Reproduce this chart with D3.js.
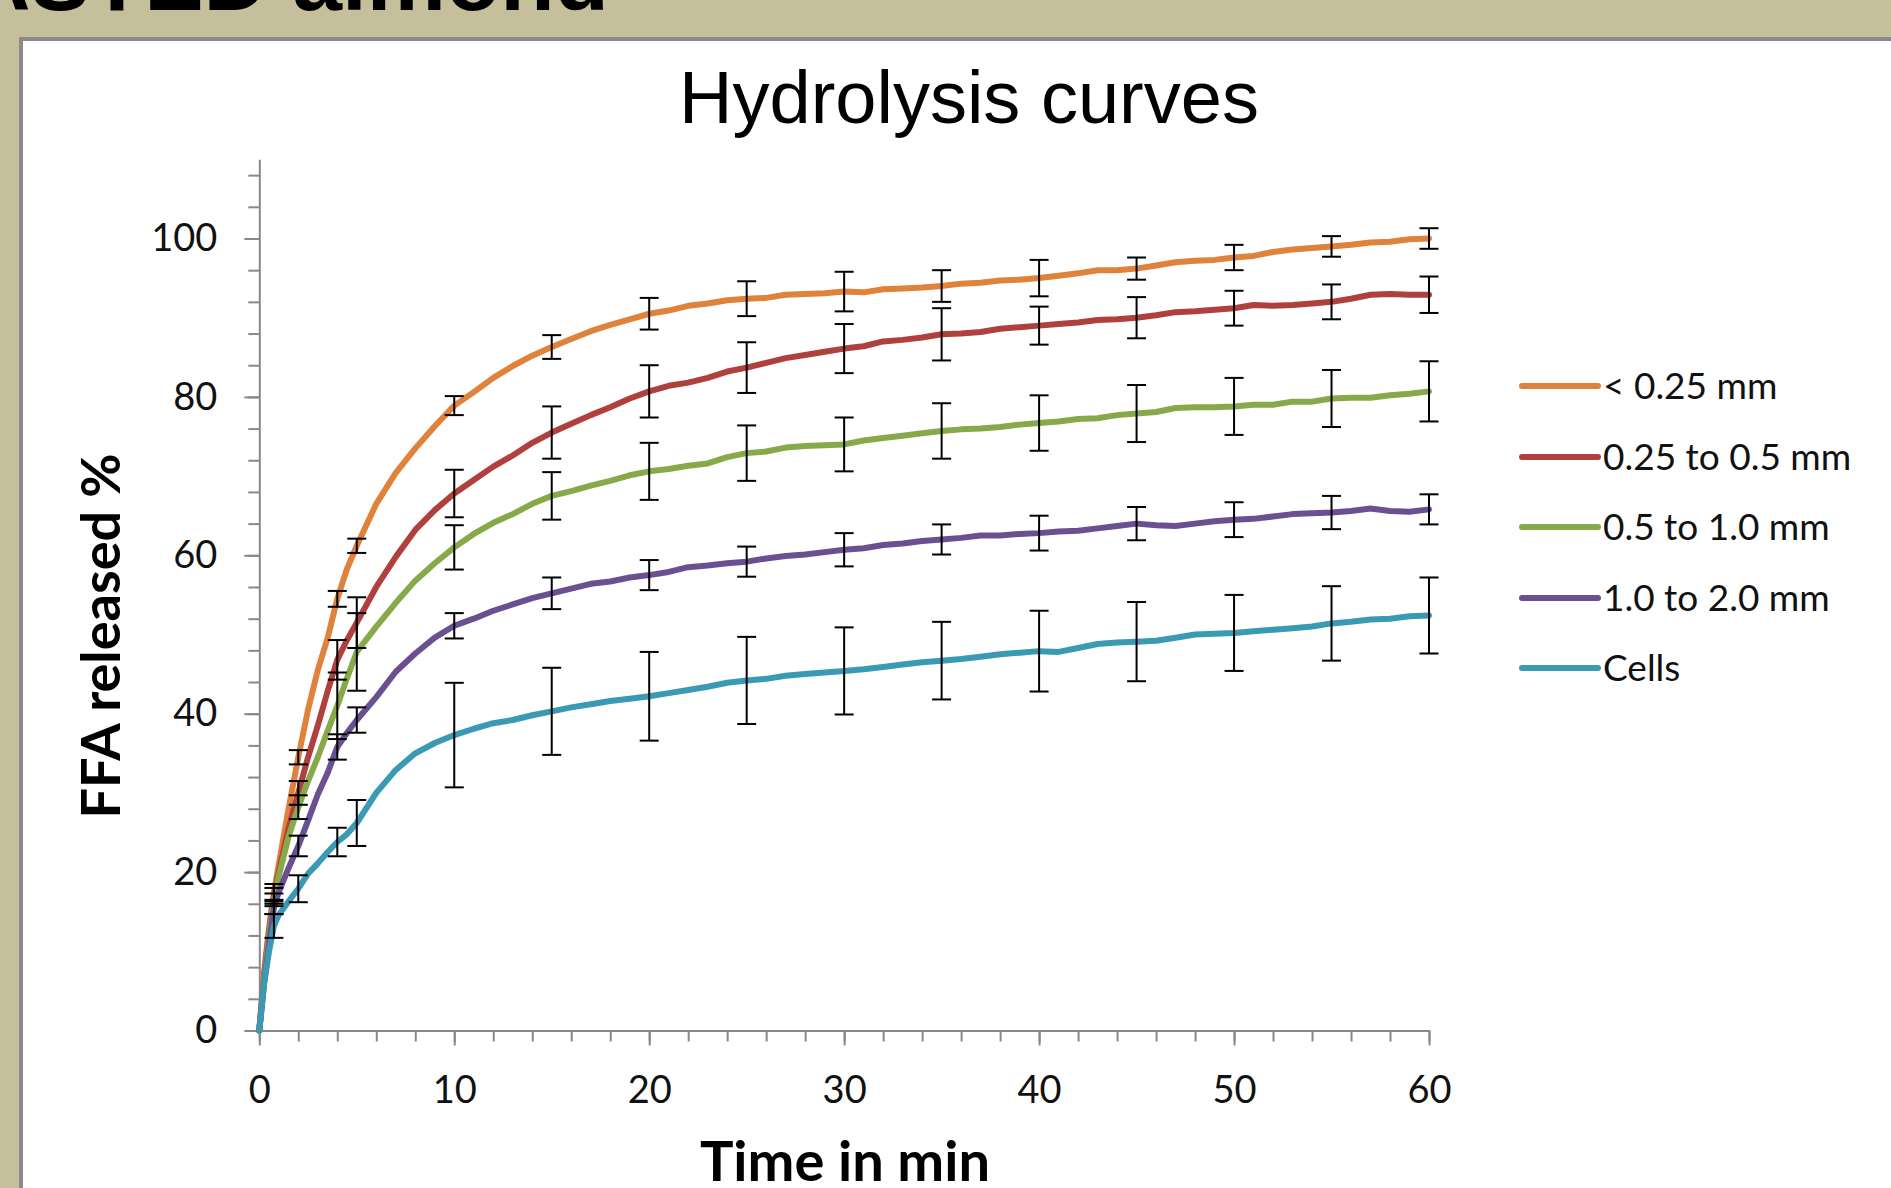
<!DOCTYPE html>
<html><head><meta charset="utf-8">
<script src="https://cdn.jsdelivr.net/npm/d3@7"></script>
<style>
body{margin:0;background:#C6BF9B;overflow:hidden;}
svg{display:block;}
</style></head>
<body>
<svg id="chart" width="1891" height="1188"></svg>
<script>
// ---- data ----
const times = [0,0.25,0.5,0.75,1,1.5,2,2.5,3,3.5,4,4.5,5,6,7,8,9,10,11,12,13,14,15,16,17,18,19,20,21,22,23,24,25,26,27,28,29,30,31,32,33,34,35,36,37,38,39,40,41,42,43,44,45,46,47,48,49,50,51,52,53,54,55,56,57,58,59,60];
const seriesNames = ["< 0.25 mm","0.25 to 0.5 mm","0.5 to 1.0 mm","1.0 to 2.0 mm","Cells"];
const below025 = [0,7.5,13,17.5,21,28,34.5,40.5,45.5,49.5,54.5,58.3,61.2,66.5,70.4,73.5,76.3,78.9,80.6,82.4,83.9,85.2,86.3,87.3,88.3,89.1,89.8,90.5,90.9,91.5,91.8,92.2,92.4,92.5,92.9,93.0,93.1,93.3,93.2,93.6,93.7,93.8,94.0,94.3,94.4,94.7,94.8,95.0,95.3,95.6,96.0,96.0,96.2,96.6,97.0,97.2,97.3,97.6,97.8,98.3,98.6,98.8,99.0,99.2,99.5,99.6,99.9,100.0];
const from025to05 = [0,7,12.5,17,20,25.5,30,34.5,38.5,42.8,46.8,49.3,51.5,56.0,59.8,63.2,65.7,67.8,69.5,71.2,72.6,74.2,75.5,76.6,77.7,78.7,79.8,80.7,81.4,81.8,82.4,83.2,83.7,84.3,84.9,85.3,85.7,86.1,86.4,87.0,87.2,87.5,87.9,88.0,88.2,88.6,88.8,89.0,89.2,89.4,89.7,89.8,90.0,90.3,90.7,90.8,91.0,91.2,91.6,91.5,91.6,91.8,92.0,92.4,92.9,93.0,92.9,92.9];
const from05to10 = [0,6.5,12,16.5,19.5,24.5,28.2,31.5,34.5,37.8,41,44.5,47.8,51.0,54.0,56.8,59.0,61.0,62.7,64.1,65.2,66.5,67.5,68.1,68.8,69.4,70.1,70.6,70.9,71.3,71.6,72.4,72.9,73.1,73.6,73.8,73.9,74.0,74.5,74.8,75.1,75.4,75.7,75.9,76.0,76.2,76.5,76.7,76.9,77.2,77.3,77.7,77.9,78.1,78.6,78.7,78.7,78.8,79.0,79.0,79.4,79.4,79.8,79.9,79.9,80.2,80.4,80.7];
const from10to20 = [0,6,11,15.5,17.5,20.5,23.3,26.5,29.8,32.5,35.8,37.6,39.2,42.1,45.3,47.6,49.6,51.1,52.0,53.0,53.8,54.6,55.2,55.8,56.4,56.7,57.2,57.5,57.9,58.5,58.7,59.0,59.2,59.6,59.9,60.1,60.4,60.7,60.9,61.3,61.5,61.8,62.0,62.2,62.5,62.5,62.7,62.8,63.0,63.1,63.4,63.7,64.0,63.8,63.7,64.0,64.3,64.5,64.6,64.9,65.2,65.3,65.4,65.6,65.9,65.6,65.5,65.8];
const cells = [0,6,10,13.2,14.6,16.3,17.9,19.8,21.1,22.5,23.8,24.8,26.2,30.0,32.9,35.0,36.3,37.3,38.1,38.8,39.2,39.8,40.3,40.8,41.2,41.6,41.9,42.2,42.6,43.0,43.4,43.9,44.2,44.4,44.8,45.0,45.2,45.4,45.6,45.9,46.2,46.5,46.7,46.9,47.2,47.5,47.7,47.9,47.8,48.3,48.8,49.0,49.1,49.2,49.6,50.0,50.1,50.2,50.4,50.6,50.8,51.0,51.4,51.6,51.9,52.0,52.3,52.4];

const errTimes = [0.75,2,4,5,10,15,20,25,30,35,40,45,50,55,60];
const errBelow025 = [1.0,0.9,1.0,0.9,1.2,1.5,2.0,2.2,2.5,2.0,2.3,1.4,1.6,1.3,1.3];
const err025to05 = [1.0,1.5,2.5,3.2,3.0,3.3,3.3,3.2,3.1,3.3,2.4,2.6,2.2,2.2,2.3];
const err05to10 = [0.8,1.5,4.2,4.9,2.8,3.0,3.6,3.5,3.4,3.5,3.5,3.6,3.6,3.6,3.8];
const err10to20 = [0.8,1.3,1.6,1.6,1.6,2.0,1.9,1.9,2.1,1.9,2.2,2.1,2.2,2.1,1.9];
const errCells = [1.5,1.7,1.8,2.9,6.6,5.5,5.6,5.5,5.5,4.9,5.1,5.0,4.8,4.7,4.8];

const xMajorTicks = [0,10,20,30,40,50,60];
const yMajorTicks = [0,20,40,60,80,100];

// ---- styles ----
const colors = ["#E0823A","#B0403D","#88A94A","#6A5091","#3A9AB4"];
const seriesValues = [below025, from025to05, from05to10, from10to20, cells];
const seriesErrors = [errBelow025, err025to05, err05to10, err10to20, errCells];

const svg = d3.select("#chart");
const axisColor = "#888888";
const tickFont = "Lato, 'Open Sans', sans-serif";

// slide heading (cut off at top)
svg.append("text")
  .attr("x", 609).attr("y", 10)
  .attr("text-anchor", "end")
  .attr("font-family", "'Liberation Sans', Arial, sans-serif")
  .attr("font-weight", "bold")
  .attr("font-size", 89)
  .attr("fill", "#000")
  .text("ROASTED almond");

// white chart panel
svg.append("rect")
  .attr("x", 21).attr("y", 39)
  .attr("width", 1900).attr("height", 1200)
  .attr("fill", "#fff")
  .attr("stroke", "#8a8a8a").attr("stroke-width", 4);

// title
svg.append("text")
  .attr("x", 969).attr("y", 123)
  .attr("text-anchor", "middle")
  .attr("font-family", "'Liberation Sans', Arial, sans-serif")
  .attr("font-size", 74)
  .attr("fill", "#000")
  .text("Hydrolysis curves");

const x = d3.scaleLinear().domain([0, 60]).range([259.3, 1429]);
const y = d3.scaleLinear().domain([0, 110]).range([1030.5, 159.3]);

// y axis minor
const yMinor = d3.range(0, 109, 4);
svg.append("g").attr("transform", `translate(${x(0)},0)`)
  .call(d3.axisLeft(y).tickValues(yMinor).tickSize(11).tickFormat(""))
  .call(g => g.select(".domain").remove())
  .call(g => g.selectAll("line").attr("stroke", axisColor).attr("stroke-width", 2));
// y axis major
svg.append("g").attr("transform", `translate(${x(0)},0)`)
  .call(d3.axisLeft(y).tickValues(yMajorTicks).tickSize(15).tickPadding(27).tickSizeOuter(0))
  .call(g => g.select(".domain").attr("stroke", axisColor).attr("stroke-width", 2))
  .call(g => g.selectAll("line").attr("stroke", axisColor).attr("stroke-width", 2))
  .call(g => g.selectAll("text").attr("font-family", tickFont).attr("font-size", 38).attr("fill", "#111"));

// x axis minor
const xMinor = d3.range(0, 61, 2);
svg.append("g").attr("transform", `translate(0,${y(0)})`)
  .call(d3.axisBottom(x).tickValues(xMinor).tickSize(11).tickFormat(""))
  .call(g => g.select(".domain").remove())
  .call(g => g.selectAll("line").attr("stroke", axisColor).attr("stroke-width", 2));
// x axis major
svg.append("g").attr("transform", `translate(0,${y(0)})`)
  .call(d3.axisBottom(x).tickValues(xMajorTicks).tickSize(15).tickPadding(31).tickSizeOuter(0))
  .call(g => g.select(".domain").attr("stroke", axisColor).attr("stroke-width", 2))
  .call(g => g.selectAll("line").attr("stroke", axisColor).attr("stroke-width", 2))
  .call(g => g.selectAll("text").attr("font-family", tickFont).attr("font-size", 38).attr("fill", "#111"));

// axis titles
svg.append("text")
  .attr("transform", `translate(120,636) rotate(-90)`)
  .attr("text-anchor", "middle")
  .attr("font-family", tickFont).attr("font-weight", "bold")
  .attr("font-size", 54).attr("fill", "#000")
  .text("FFA released %");
svg.append("text")
  .attr("x", 845).attr("y", 1181)
  .attr("text-anchor", "middle")
  .attr("font-family", tickFont).attr("font-weight", "bold")
  .attr("font-size", 56).attr("fill", "#000")
  .text("Time in min");

// lines
const line = d3.line().x((d, i) => x(times[i])).y(d => y(d));
seriesValues.forEach((vals, s) => {
  svg.append("path")
    .datum(vals)
    .attr("d", line)
    .attr("fill", "none")
    .attr("stroke", colors[s])
    .attr("stroke-width", 6)
    .attr("stroke-linejoin", "round")
    .attr("stroke-linecap", "round");
});

// error bars
const eb = svg.append("g").attr("stroke", "#000").attr("stroke-width", 2);
seriesValues.forEach((vals, s) => {
  errTimes.forEach((t, k) => {
    const v = vals[times.indexOf(t)];
    const e = seriesErrors[s][k];
    const cx = x(t);
    eb.append("line").attr("x1", cx).attr("x2", cx).attr("y1", y(v - e)).attr("y2", y(v + e));
    eb.append("line").attr("x1", cx - 9.5).attr("x2", cx + 9.5).attr("y1", y(v - e)).attr("y2", y(v - e));
    eb.append("line").attr("x1", cx - 9.5).attr("x2", cx + 9.5).attr("y1", y(v + e)).attr("y2", y(v + e));
  });
});

// legend
const legendY = [386, 457, 527, 598, 668];
const lg = svg.append("g");
seriesNames.forEach((name, s) => {
  lg.append("line")
    .attr("x1", 1522).attr("x2", 1598)
    .attr("y1", legendY[s]).attr("y2", legendY[s])
    .attr("stroke", colors[s]).attr("stroke-width", 6).attr("stroke-linecap", "round");
  lg.append("text")
    .attr("x", 1603).attr("y", legendY[s])
    .attr("dy", "0.35em")
    .attr("font-family", tickFont).attr("font-size", 37).attr("fill", "#111")
    .text(name);
});
</script>
</body></html>
